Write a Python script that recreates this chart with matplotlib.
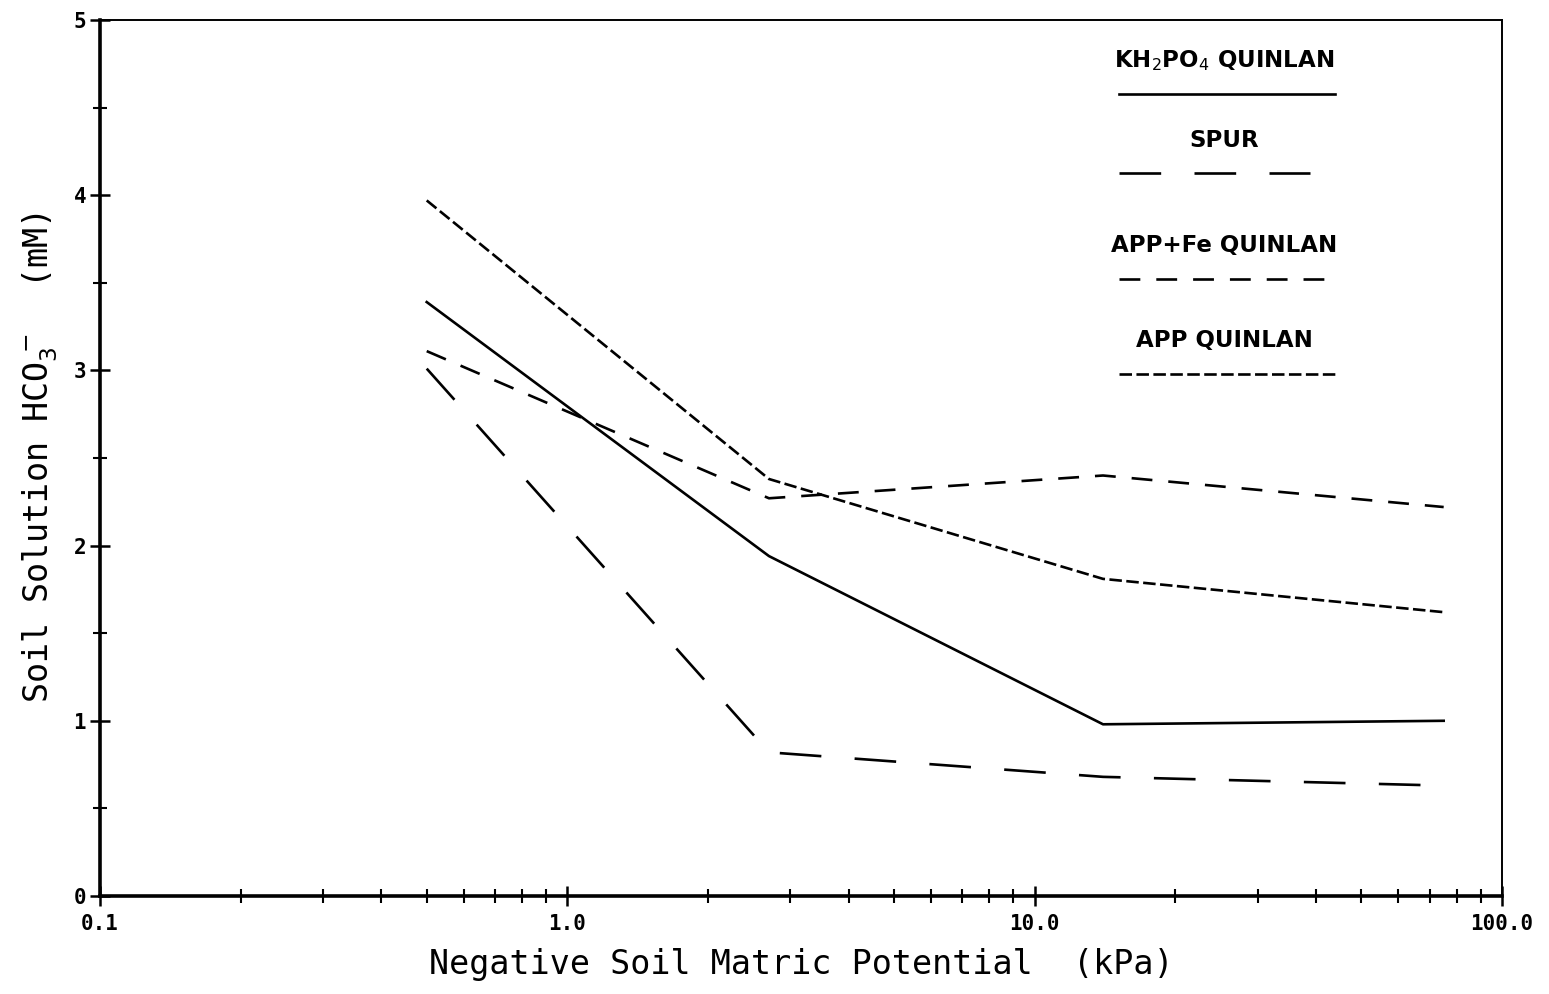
import matplotlib
matplotlib.use("Agg")
import matplotlib.pyplot as plt
from matplotlib.ticker import FixedLocator, FixedFormatter, NullFormatter

# ---- data ----
potential_kpa = [0.5, 2.7, 14.0, 75.0]
kh2po4_quinlan = [3.39, 1.94, 0.98, 1.00]
spur = [3.01, 0.82, 0.68, 0.63]
app_fe_quinlan = [3.11, 2.27, 2.40, 2.22]
app_quinlan = [3.97, 2.38, 1.81, 1.62]

series_names = ["KH$_2$PO$_4$ QUINLAN", "SPUR", "APP+Fe QUINLAN", "APP QUINLAN"]
x_tick_values = [0.1, 1.0, 10.0, 100.0]
x_tick_labels = ["0.1", "1.0", "10.0", "100.0"]
y_tick_values = [0, 1, 2, 3, 4, 5]
y_tick_labels = ["0", "1", "2", "3", "4", "5"]

plt.rcParams["lines.scale_dashes"] = False

fig = plt.figure(figsize=(15.49, 9.94), dpi=100)
ax = fig.add_axes([0.0646, 0.0986, 0.9051, 0.8813])

lw = 1.9
styles = [
    dict(linestyle="-"),
    dict(dashes=(30, 24)),
    dict(dashes=(15, 11.5)),
    dict(dashes=(9.0, 3.2)),
]
all_series = [kh2po4_quinlan, spur, app_fe_quinlan, app_quinlan]
for ys, st in zip(all_series, styles):
    ax.plot(potential_kpa, ys, color="black", linewidth=lw, **st)

ax.set_xscale("log")
ax.set_xlim(0.1, 100)
ax.set_ylim(0, 5)

mono = "DejaVu Sans Mono"
ax.xaxis.set_major_locator(FixedLocator(x_tick_values))
ax.xaxis.set_major_formatter(FixedFormatter(x_tick_labels))
minor_x = [m * d for d in (0.1, 1, 10) for m in range(2, 10)]
ax.xaxis.set_minor_locator(FixedLocator(minor_x))
ax.xaxis.set_minor_formatter(NullFormatter())
ax.yaxis.set_major_locator(FixedLocator(y_tick_values))
ax.yaxis.set_major_formatter(FixedFormatter(y_tick_labels))
ax.yaxis.set_minor_locator(FixedLocator([0.5, 1.5, 2.5, 3.5, 4.5]))

ax.tick_params(axis="both", which="major", direction="inout", length=14, width=1.8,
               labelsize=15)
ax.tick_params(axis="both", which="minor", direction="inout", length=10, width=1.5)
ax.tick_params(axis="x", which="major", pad=6)
ax.tick_params(axis="y", which="major", pad=3)
for lab in ax.get_xticklabels() + ax.get_yticklabels():
    lab.set_fontfamily(mono)
    lab.set_fontweight("bold")

ax.spines["left"].set_linewidth(2.6)
ax.spines["bottom"].set_linewidth(2.6)
ax.spines["top"].set_linewidth(1.4)
ax.spines["right"].set_linewidth(1.4)

ax.set_xlabel("Negative Soil Matric Potential  (kPa)", fontfamily=mono, fontsize=24, labelpad=10)
ax.set_ylabel("Soil Solution HCO$_3^{\\,-}$  (mM)", fontfamily=mono, fontsize=24, labelpad=10)

# ---- legend (text above sample line) ----
leg_x0 = 0.727
leg_xc = 0.802
text_y = [0.954, 0.862, 0.742, 0.634]
line_y = [0.916, 0.825, 0.704, 0.596]
line_x1 = [0.881, 0.863, 0.878, 0.881]
for name, st, ty, ly, x1 in zip(series_names, styles, text_y, line_y, line_x1):
    ax.text(leg_xc, ty, name, transform=ax.transAxes, ha="center", va="center",
            fontsize=16.5, fontweight="bold", family="DejaVu Sans")
    ax.plot([leg_x0, x1], [ly, ly], transform=ax.transAxes, color="black",
            linewidth=lw, clip_on=False, **st)

fig.savefig("out.png", dpi=100)
